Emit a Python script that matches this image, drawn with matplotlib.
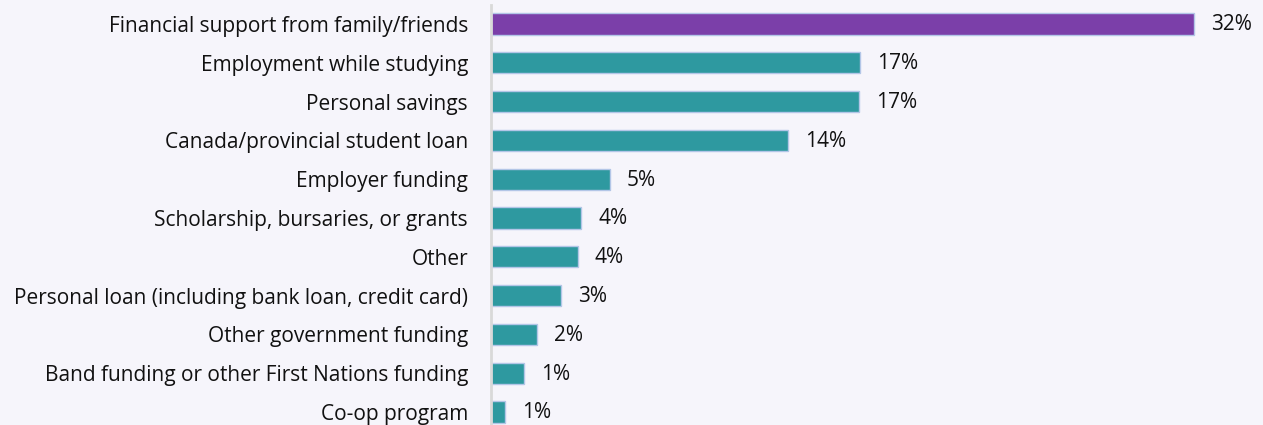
import matplotlib
matplotlib.use("Agg")
import matplotlib.pyplot as plt

categories = [
    "Financial support from family/friends",
    "Employment while studying",
    "Personal savings",
    "Canada/provincial student loan",
    "Employer funding",
    "Scholarship, bursaries, or grants",
    "Other",
    "Personal loan (including bank loan, credit card)",
    "Other government funding",
    "Band funding or other First Nations funding",
    "Co-op program",
]
values = [32.0, 16.8, 16.75, 13.5, 5.4, 4.1, 3.95, 3.2, 2.1, 1.5, 0.65]
labels = ["32%", "17%", "17%", "14%", "5%", "4%", "4%", "3%", "2%", "1%", "1%"]

plt.rcParams['font.family'] = ['Open Sans', 'DejaVu Sans']
bg = "#F6F5FB"
fig = plt.figure(figsize=(12.63, 4.25), dpi=100, facecolor=bg)
ax = fig.add_axes([491/1263, 0, 769/1263, 1], facecolor=bg)

colors = ["#7B3FA9"] + ["#2E99A0"] * (len(values) - 1)
y = list(range(len(values)))
ax.barh(y, values, height=0.55, color=colors, edgecolor="#B3C6E7", linewidth=1.0)

for yi, v, lab in zip(y, values, labels):
    ax.annotate(lab, (v, yi), xytext=(17, -1), textcoords="offset pixels",
                va="center", ha="left", fontsize=15, color="#111111")

ax.set_xlim(0, 35)
ax.set_ylim(10 + (425 - 412) / 38.8, -24 / 38.8)
ax.set_yticks(y)
ax.set_yticklabels(categories, fontsize=15, color="#111111")
ax.tick_params(axis="y", length=0, pad=16.5)
ax.set_xticks([])
for s in ["top", "right", "bottom"]:
    ax.spines[s].set_visible(False)
ax.spines["left"].set_color("#D9D9D9")
ax.spines["left"].set_linewidth(2)
ax.spines["left"].set_bounds(-0.5, 11)

fig.savefig("out.png", dpi=100, facecolor=bg)
